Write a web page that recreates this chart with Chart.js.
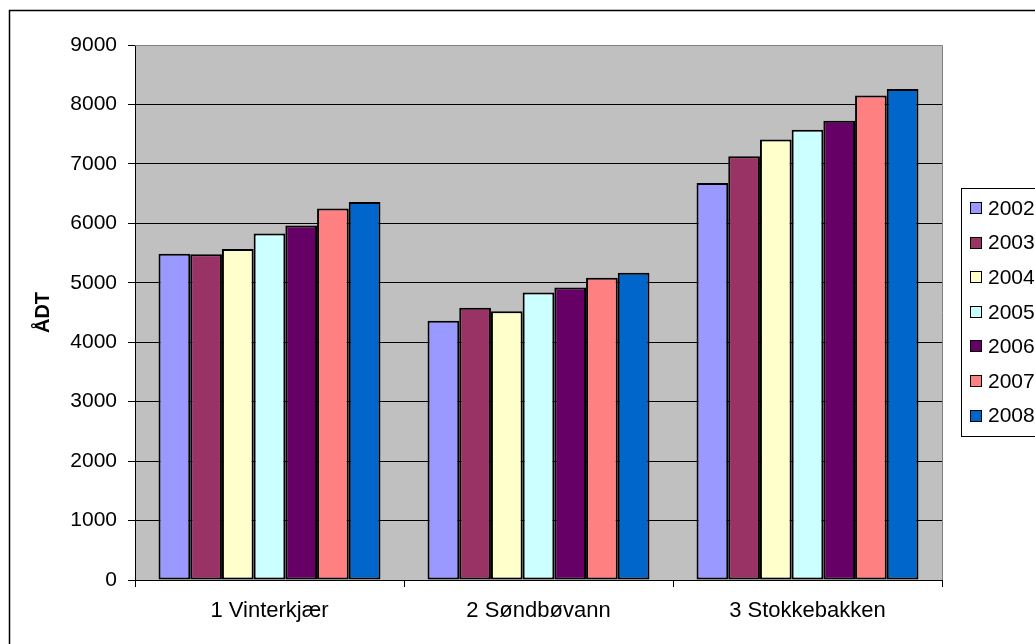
<!DOCTYPE html>
<html>
<head>
<meta charset="utf-8">
<script src="https://cdn.jsdelivr.net/npm/chart.js@4"></script>
<style>
html,body{margin:0;padding:0;background:#fff;}
#wrap{width:1035px;height:644px;position:relative;}
</style>
</head>
<body>
<div id="wrap"><canvas id="c" width="1035" height="644"></canvas></div>
<script>
const categories = ['1 Vinterkjær', '2 Søndbøvann', '3 Stokkebakken'];
const years = ['2002', '2003', '2004', '2005', '2006', '2007', '2008'];
const v2002 = [5490, 4360, 6680];
const v2003 = [5480, 4580, 7130];
const v2004 = [5570, 4520, 7410];
const v2005 = [5830, 4835, 7575];
const v2006 = [5965, 4920, 7725];
const v2007 = [6250, 5085, 8150];
const v2008 = [6360, 5170, 8260];
const seriesValues = [v2002, v2003, v2004, v2005, v2006, v2007, v2008];
const colors = ['#9999FF', '#993366', '#FFFFCC', '#CCFFFF', '#660066', '#FF8080', '#0066CC'];
const yTitle = 'ÅDT';
const yMin = 0, yMax = 9000, yStep = 1000;

const FONT = "'Liberation Sans', Arial, sans-serif";

const decor = {
  id: 'decor',
  beforeDraw(chart) {
    const {ctx, chartArea: a} = chart;
    ctx.save();
    ctx.fillStyle = '#fff';
    ctx.fillRect(0, 0, chart.width, chart.height);
    ctx.strokeStyle = '#000';
    ctx.lineWidth = 1.5;
    ctx.beginPath();
    ctx.moveTo(9.5, chart.height + 5);
    ctx.lineTo(9.5, 10.5);
    ctx.lineTo(chart.width + 5, 10.5);
    ctx.stroke();
    ctx.fillStyle = '#C0C0C0';
    ctx.fillRect(a.left, a.top, a.right - a.left, a.bottom - a.top);
    ctx.restore();
  },
  afterDatasetsDraw(chart) {
    const {ctx, chartArea: a} = chart;
    ctx.save();
    ctx.strokeStyle = '#808080';
    ctx.lineWidth = 1;
    ctx.beginPath();
    ctx.moveTo(a.left, Math.round(a.top) + 0.5);
    ctx.lineTo(Math.round(a.right) + 0.5, Math.round(a.top) + 0.5);
    ctx.lineTo(Math.round(a.right) + 0.5, a.bottom);
    ctx.stroke();
    ctx.restore();
  },
  afterDraw(chart) {
    const {ctx} = chart;
    ctx.save();
    const bx = 961.5, by = 188.5, step = 34.6, first = 208;
    ctx.fillStyle = '#fff';
    ctx.fillRect(bx, by, 120, 248);
    ctx.strokeStyle = '#000';
    ctx.lineWidth = 1;
    ctx.strokeRect(bx, by, 120, 248);
    ctx.font = '21px ' + FONT;
    ctx.textBaseline = 'middle';
    ctx.textAlign = 'left';
    chart.data.datasets.forEach((ds, i) => {
      const cy = first + i * step;
      ctx.fillStyle = ds.backgroundColor;
      ctx.fillRect(970.5, Math.round(cy - 6) + 0.5, 11, 11);
      ctx.strokeStyle = '#000';
      ctx.strokeRect(970.5, Math.round(cy - 6) + 0.5, 11, 11);
      ctx.fillStyle = '#000';
      ctx.fillText(ds.label, 988, cy + 1);
    });
    ctx.restore();
  }
};

new Chart(document.getElementById('c'), {
  type: 'bar',
  data: {
    labels: categories,
    datasets: years.map((y, i) => ({
      label: y,
      data: seriesValues[i],
      backgroundColor: colors[i],
      borderColor: '#000',
      borderWidth: 2,
      borderSkipped: false,
      categoryPercentage: 0.825,
      barPercentage: 1.0
    }))
  },
  options: {
    responsive: false,
    animation: false,
    devicePixelRatio: 1,
    layout: {padding: {top: 45, right: 93, bottom: 0, left: 0}},
    plugins: {legend: {display: false}, tooltip: {enabled: false}},
    scales: {
      x: {
        offset: true,
        grid: {display: true, drawOnChartArea: false, drawTicks: true, tickLength: 7, color: '#000', offset: true},
        border: {display: true, color: '#000', width: 1},
        ticks: {font: {family: FONT, size: 22}, color: '#000', padding: 11, maxRotation: 0},
        afterFit(s) { s.height = 64; }
      },
      y: {
        min: yMin, max: yMax,
        grid: {
          color: (c) => (c.tick && c.tick.value === yMax) ? '#808080' : '#000',
          tickColor: '#000',
          tickLength: 7, drawTicks: true
        },
        border: {display: true, color: '#000', width: 1},
        ticks: {stepSize: yStep, font: {family: FONT, size: 21}, color: '#000', padding: 11,
          callback: (v) => String(v)},
        title: {display: true, text: yTitle, font: {family: FONT, size: 20, weight: 'bold'}, color: '#000', padding: {top: 31, bottom: 0}},
        afterFit(s) { s.width = 135; }
      }
    }
  },
  plugins: [decor]
});
</script>
</body>
</html>
